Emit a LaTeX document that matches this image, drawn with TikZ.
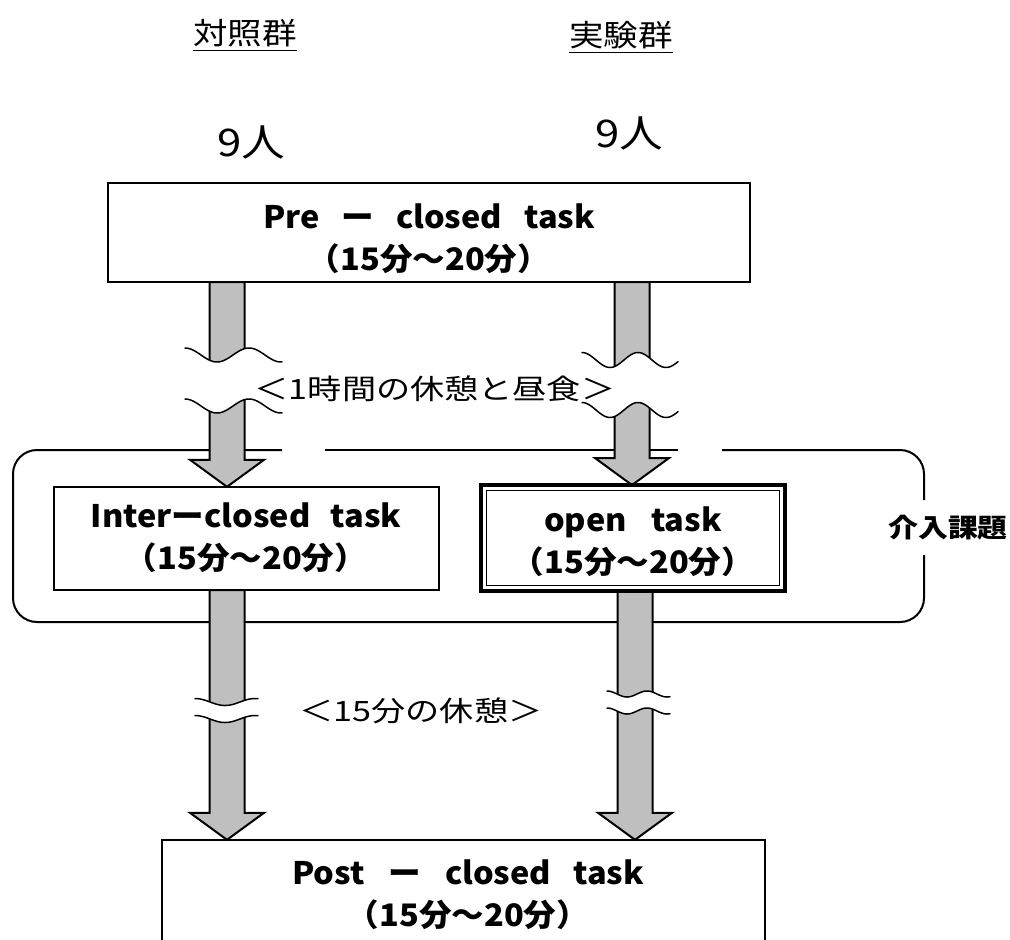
\documentclass[tikz,border=0pt]{standalone}
\usepackage{fontspec}
\usetikzlibrary{calc}
\newfontfamily\jpfont{Noto Sans CJK JP}[FakeStretch=1.15]
\newfontfamily\jpboxfont{Noto Sans CJK JP}[FakeStretch=1.05]
\newfontfamily\jpwidefont{Noto Sans CJK JP}[FakeStretch=1.22]
\definecolor{arrowgray}{RGB}{191,191,191}

% thick grey block arrow from a start point straight down to a tip point
\newcommand{\blockarrow}[2]{%
  \draw[blockarr] let \p1=(#1), \p2=(#2) in
    (\x1-17.5pt,\y1) -- (\x1-17.5pt,\y2+27pt) -- (\x1-37pt,\y2+27pt)
    -- (\x1,\y2) -- (\x1+37pt,\y2+27pt) -- (\x1+17.5pt,\y2+27pt)
    -- (\x1+17.5pt,\y1) -- cycle;}

% white break band bounded by two wavy lines
% #1 x from, #2 x to, #3 upper centre, #4 lower centre, #5 amplitude, #6 period
\newcommand{\wavebreak}[6]{%
  \fill[white] plot[domain=#1:#2, samples=60] (\x,{#3-#5*cos((\x-#1)/#6*360)})
    -- plot[domain=#2:#1, samples=60] (\x,{#4-#5*cos((\x-#1)/#6*360)}) -- cycle;
  \draw[waveline] plot[domain=#1:#2, samples=60] (\x,{#3-#5*cos((\x-#1)/#6*360)});
  \draw[waveline] plot[domain=#1:#2, samples=60] (\x,{#4-#5*cos((\x-#1)/#6*360)});}

\tikzset{
  tasktext/.style={font=\jpboxfont\bfseries\fontsize{31}{42}\selectfont, align=center, inner sep=0pt},
  grouplabel/.style={font=\jpfont\fontsize{30}{36}\selectfont, inner sep=0pt},
  countlabel/.style={font=\jpfont\fontsize{38}{44}\selectfont, inner sep=0pt},
  pauselabel/.style={font=\jpwidefont\fontsize{28}{34}\selectfont, inner sep=0pt},
  sidelabel/.style={font=\jpfont\bfseries\fontsize{26}{30}\selectfont, inner sep=0pt},
  blockarr/.style={draw=black, line width=2pt, fill=arrowgray, line join=miter},
  groupline/.style={line width=2pt},
  waveline/.style={line width=1.5pt, line cap=round}
}

\begin{document}
\begin{tikzpicture}[x=1pt, y=-1pt]
\useasboundingbox (0,0) rectangle (1010,940);
\clip (0,0) rectangle (1010,940);

% column headings
\node[grouplabel] (ctrl) at (245,33) {対照群};
\draw[line width=1.5pt] ($(ctrl.base west)+(0,6)$) -- ($(ctrl.base east)+(0,6)$);
\node[grouplabel] (expt) at (621,35) {実験群};
\draw[line width=1.5pt] ($(expt.base west)+(0,6)$) -- ($(expt.base east)+(0,6)$);

% group sizes
\node[countlabel] (nctrl) at (251,142) {9人};
\node[countlabel] (nexpt) at (629,133) {9人};

% bracket around the intervention step, open at three places
\draw[groupline, rounded corners=24pt] (282,450) -- (13,450) -- (13,622) -- (924,622) -- (924,555);
\draw[groupline, rounded corners=24pt] (924,500) -- (924,450) -- (722,450);
\draw[groupline] (678,450) -- (325,450);

% task boxes (geometry only, text placed afterwards)
\path (429,232.5) node[minimum width=642pt, minimum height=99pt, inner sep=0pt] (pre) {};
\path (246.5,538.5) node[minimum width=385pt, minimum height=103pt, inner sep=0pt] (inter) {};
\path (633,538) node[minimum width=303.5pt, minimum height=105.5pt, inner sep=0pt] (open) {};
\path (463.5,900) node[minimum width=603pt, minimum height=120pt, inner sep=0pt] (post) {};

% column positions of the arrows
\coordinate (lcol) at (227,0);
\coordinate (rcol) at (632,0);
\coordinate (rcolb) at (635,0);

\blockarrow{lcol |- pre.south}{lcol |- inter.north}
\blockarrow{rcol |- pre.south}{rcol |- open.north}
\blockarrow{lcol |- inter.south}{lcol |- post.north}
\blockarrow{rcolb |- open.south}{rcolb |- post.north}

% box outlines over the arrow ends
\draw[line width=2pt] (pre.south west) rectangle (pre.north east);
\draw[line width=2pt] (inter.south west) rectangle (inter.north east);
\draw[line width=4.5pt] (open.south west) rectangle (open.north east);
\draw[line width=1pt] ($(open.north west)+(5.5,5.5)$) rectangle ($(open.south east)+(-5.5,-5.5)$);
\draw[line width=2pt] (post.south west) -- (post.north west) -- (post.north east) -- (post.south east);

% box texts
\node[tasktext] (pretext) at (429,239) {Pre\hspace{22pt}ー\hspace{22pt}closed\hspace{22pt}task\\（15分～20分）};
\node[tasktext] (intertext) at (246,538) {Interーclosed\hspace{20pt}task\\（15分～20分）};
\node[tasktext] (opentext) at (633,542) {open\hspace{24pt}task\\（15分～20分）};
\node[tasktext] (posttext) at (468,895) {Post\hspace{24pt}ー\hspace{24pt}closed\hspace{22pt}task\\（15分～20分）};

% breaks in the arrows
\wavebreak{185}{282}{355}{406}{7}{64}
\wavebreak{582}{678}{360}{410}{7.5}{56}
\wavebreak{195}{258}{702}{719}{3.5}{60}
\wavebreak{607}{670}{694}{711}{3}{40}

% pause labels
\node[pauselabel] (pause1) at (435,389) {＜1時間の休憩と昼食＞};
\node[pauselabel] (pause2) at (421,711) {＜15分の休憩＞};

% side label
\node[sidelabel] (interv) at (948,528) {介入課題};
\end{tikzpicture}
\end{document}
